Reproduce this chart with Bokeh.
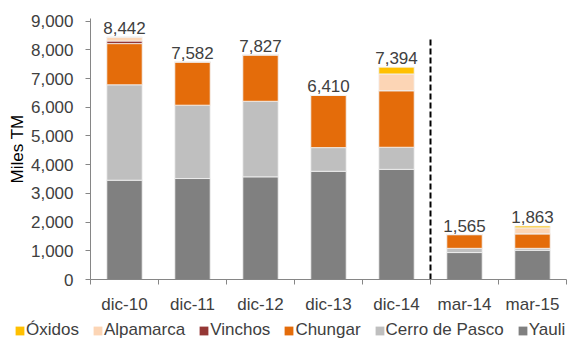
from bokeh.plotting import figure
from bokeh.models import (Range1d, FixedTicker, NumeralTickFormatter, Legend,
                          LegendItem, ColumnDataSource)
from bokeh.core.properties import value
from bokeh.embed import file_html
from bokeh.resources import INLINE

# ---------------- data ----------------
categories = ["dic-10", "dic-11", "dic-12", "dic-13", "dic-14", "mar-14", "mar-15"]
yauli       = [3458, 3517, 3575, 3768, 3836, 938, 1018]
cerro_pasco = [3324, 2554, 2633, 825, 770, 148, 68]
chungar     = [1433, 1511, 1619, 1817, 1970, 479, 507]
vinchos     = [90, 0, 0, 0, 0, 0, 0]
alpamarca   = [137, 0, 0, 0, 584, 0, 206]
oxidos      = [0, 0, 0, 0, 234, 0, 64]
totals      = [8442, 7582, 7827, 6410, 7394, 1565, 1863]
series_names = ["Yauli", "Cerro de Pasco", "Chungar", "Vinchos", "Alpamarca", "Óxidos"]
series_colors = ["#808080", "#BFBFBF", "#E46C0A", "#953735", "#FCD5B5", "#FFC000"]
y_ticks = [0, 1000, 2000, 3000, 4000, 5000, 6000, 7000, 8000, 9000]
separator_after = 5          # dashed line drawn between dic-14 and mar-14
separator_top = 8400

FONT = "Liberation Sans"
TXT = "#404040"
AXC = "#868686"

xs = [i + 0.5 for i in range(len(categories))]
keys = ["s%d" % i for i in range(len(series_names))]
src = ColumnDataSource(dict(x=xs, **{k: v for k, v in zip(
    keys, [yauli, cerro_pasco, chungar, vinchos, alpamarca, oxidos])}))

p = figure(width=574, height=316, output_backend="svg", toolbar_location=None,
           x_range=Range1d(0, len(categories)), y_range=Range1d(0, 9090),
           min_border_left=90, min_border_right=8, min_border_top=18,
           min_border_bottom=34)
p.outline_line_color = None
p.grid.visible = False
p.background_fill_color = "white"
p.border_fill_color = "white"

rs = p.vbar_stack(keys, x="x", width=0.52, color=series_colors, source=src,
                  line_color="#F2F2F2", line_width=0.8)

# totals
p.text(x=xs, y=totals, text=["{:,}".format(t) for t in totals],
       text_align="center", text_baseline="bottom", y_offset=-3,
       text_font=value(FONT), text_font_size="17px", text_color=TXT)

# separator
p.segment(x0=[separator_after], y0=[0], x1=[separator_after], y1=[separator_top],
          line_color="black", line_width=2, line_dash="6 3")

# y axis
ya = p.yaxis[0]
ya.ticker = FixedTicker(ticks=y_ticks)
ya.formatter = NumeralTickFormatter(format="0,0")
ya.axis_line_color = AXC
ya.major_tick_line_color = AXC
ya.major_tick_out = 5
ya.major_tick_in = 0
ya.minor_tick_line_color = None
ya.major_label_text_font = FONT
ya.major_label_text_font_size = "17px"
ya.major_label_text_color = TXT
ya.major_label_standoff = 12
ya.axis_label = "Miles TM"
ya.axis_label_text_font = FONT
ya.axis_label_text_font_size = "17px"
ya.axis_label_text_font_style = "normal"
ya.axis_label_text_color = "black"
ya.axis_label_standoff = 1

# x axis
xa = p.xaxis[0]
xa.ticker = FixedTicker(ticks=xs, minor_ticks=list(range(len(categories) + 1)))
xa.major_label_overrides = {x: c for x, c in zip(xs, categories)}
xa.axis_line_color = AXC
xa.major_tick_line_color = None
xa.minor_tick_line_color = AXC
xa.minor_tick_out = 5
xa.minor_tick_in = 0
xa.major_label_text_font = FONT
xa.major_label_text_font_size = "17px"
xa.major_label_text_color = TXT
xa.major_label_standoff = 9

# legend (separate strip below the chart)
lg = figure(width=574, height=22, output_backend="svg", toolbar_location=None,
            x_range=Range1d(0, 1), y_range=Range1d(0, 1),
            x_axis_location=None, y_axis_location=None,
            min_border=0, min_border_left=0, min_border_right=0,
            min_border_top=0, min_border_bottom=0)
lg.grid.visible = False
lg.outline_line_color = None
nan = float("nan")
lg_rs = [lg.vbar(x=[nan], top=[nan], width=1, fill_color=c, line_color=None)
         for c in series_colors]
items = [LegendItem(label=n, renderers=[r]) for n, r in zip(series_names, lg_rs)][::-1]
leg = Legend(items=items, orientation="horizontal", location=(14, -2),
             label_text_font=FONT, label_text_font_size="17px",
             label_text_color=TXT, glyph_width=11, glyph_height=11,
             label_standoff=1, spacing=13, padding=0, margin=0,
             border_line_color=None, background_fill_alpha=0)
lg.add_layout(leg)

open("out.html", "w").write(file_html([p, lg], INLINE))
